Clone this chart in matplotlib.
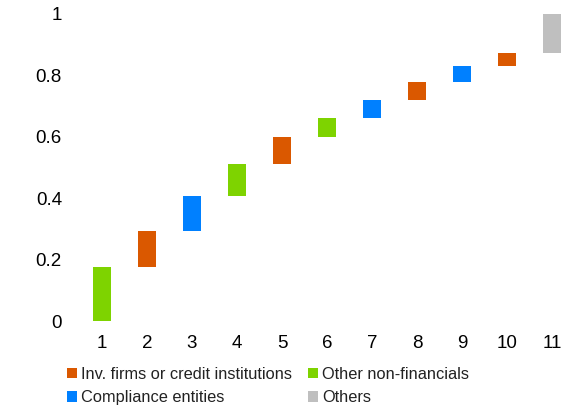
import matplotlib
matplotlib.use("Agg")
import matplotlib.pyplot as plt
import numpy as np
from matplotlib.patches import Patch

plt.rcParams['font.family'] = ['Liberation Sans', 'DejaVu Sans']

categories = [1, 2, 3, 4, 5, 6, 7, 8, 9, 10, 11]
increments = [0.176, 0.117, 0.113, 0.105, 0.089, 0.061, 0.059, 0.058, 0.054, 0.041, 0.127]
groups = ["Other non-financials", "Inv. firms or credit institutions", "Compliance entities",
          "Other non-financials", "Inv. firms or credit institutions", "Other non-financials",
          "Compliance entities", "Inv. firms or credit institutions", "Compliance entities",
          "Inv. firms or credit institutions", "Others"]
y_ticks = [0, 0.2, 0.4, 0.6, 0.8, 1]
y_tick_labels = ["0", "0.2", "0.4", "0.6", "0.8", "1"]

colors = {
    "Inv. firms or credit institutions": "#DA5800",
    "Other non-financials": "#7ED300",
    "Compliance entities": "#0080FF",
    "Others": "#BFBFBF",
}
legend_order = ["Inv. firms or credit institutions", "Compliance entities",
                "Other non-financials", "Others"]

tops = np.cumsum(increments)
bottoms = tops - np.array(increments)

fig = plt.figure(figsize=(5.63, 4.08), dpi=100)
ax = fig.add_axes([79.5 / 563, 87 / 408, 495 / 563, 307 / 408])
ax.bar(categories, increments, bottom=bottoms, width=0.41,
       color=[colors[g] for g in groups])
ax.set_xlim(0.5, 11.5)
ax.set_ylim(0, 1)
ax.set_xticks(categories)
ax.set_xticklabels([str(c) for c in categories])
ax.set_yticks(y_ticks)
ax.set_yticklabels(y_tick_labels)
ax.tick_params(axis='both', length=0, labelsize=13.5, colors='black')
ax.tick_params(axis='y', pad=12.6)
ax.tick_params(axis='x', pad=10)
for s in ax.spines.values():
    s.set_visible(False)

handles = [Patch(facecolor=colors[g], edgecolor='none') for g in legend_order]
fig.legend(handles, legend_order, ncol=2, loc='upper left',
           bbox_to_anchor=(67 / 563, 1 - 367 / 408), frameon=False,
           fontsize=11.8, handlelength=0.6, handleheight=0.6, handletextpad=0.25,
           columnspacing=1.0, labelspacing=0.5, borderaxespad=0, borderpad=0,
           labelcolor='#222222')

fig.savefig("out.png", dpi=100)
